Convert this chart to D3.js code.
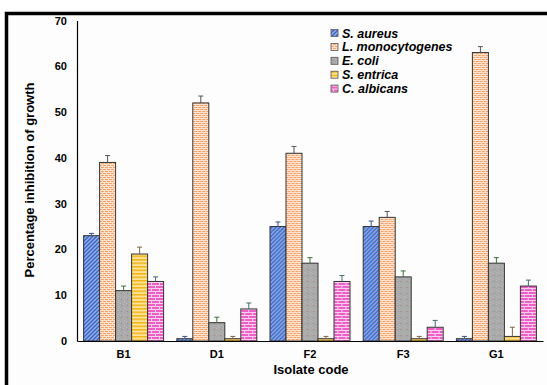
<!DOCTYPE html>
<html>
<head>
<meta charset="utf-8">
<script src="https://cdn.jsdelivr.net/npm/d3@7"></script>
<style>
  body { margin: 0; background: #fff; }
  svg { font-family: Arial, "Liberation Sans", sans-serif; }
</style>
</head>
<body>
<div id="chart"></div>
<script>
// data
var isolates = ["B1", "D1", "F2", "F3", "G1"];
var organisms = ["S. aureus", "L. monocytogenes", "E. coli", "S. entrica", "C. albicans"];
var sAureus = [23, 0.5, 25, 25, 0.5];
var lMono = [39, 52, 41, 27, 63];
var eColi = [11, 4, 17, 14, 17];
var sEntrica = [19, 0.5, 0.5, 0.5, 1];
var cAlbicans = [13, 7, 13, 3, 12];
var sAureusErr = [0.5, 0.5, 1, 1.2, 0.5];
var lMonoErr = [1.5, 1.5, 1.5, 1.3, 1.3];
var eColiErr = [1, 1.2, 1.2, 1.3, 1.2];
var sEntricaErr = [1.5, 0.5, 0.5, 0.5, 2];
var cAlbicansErr = [1, 1.3, 1.3, 1.5, 1.3];
var yTicks = [0, 10, 20, 30, 40, 50, 60, 70];

var series = [sAureus, lMono, eColi, sEntrica, cAlbicans];
var errs = [sAureusErr, lMonoErr, eColiErr, sEntricaErr, cAlbicansErr];

function makeChart(divID) {
    var width = 547, height = 385;
    var svg = d3.select("#" + divID).append("svg")
        .attr("width", width)
        .attr("height", height);

    // frame (left + top border only visible)
    svg.append("rect").attr("x", 6.5).attr("y", 13.5)
        .attr("width", 560).attr("height", 400)
        .attr("fill", "#fdfdfd").attr("stroke", "#000").attr("stroke-width", 3.5);

    var defs = svg.append("defs");

    // S. aureus - blue diagonal weave
    var p0 = defs.append("pattern").attr("id", "pat0").attr("patternUnits", "userSpaceOnUse")
        .attr("width", 4).attr("height", 4);
    p0.append("rect").attr("width", 4).attr("height", 4).attr("fill", "#8fb0ec");
    p0.append("path").attr("d", "M-1,1 L1,-1 M0,4 L4,0 M3,5 L5,3").attr("stroke", "#3c62c0").attr("stroke-width", 1.3);

    // L. monocytogenes - orange small bricks
    var p1 = defs.append("pattern").attr("id", "pat1").attr("patternUnits", "userSpaceOnUse")
        .attr("width", 4).attr("height", 4);
    p1.append("rect").attr("width", 4).attr("height", 4).attr("fill", "#f6a36a");
    p1.append("path").attr("d", "M0,0.5 H4 M0,2.5 H4 M1.5,0 V2 M3.5,2 V4").attr("stroke", "#fde3cf").attr("stroke-width", 1);

    // E. coli - gray confetti
    var p2 = defs.append("pattern").attr("id", "pat2").attr("patternUnits", "userSpaceOnUse")
        .attr("width", 6).attr("height", 6);
    p2.append("rect").attr("width", 6).attr("height", 6).attr("fill", "#a9a9a9");
    var specks = [[0, 0, "#c9a7c4"], [3, 1, "#9bc29b"], [1, 3, "#b8b8d8"], [4, 4, "#d0b8a0"], [2, 5, "#8e8e8e"], [5, 2, "#c4c4c4"]];
    specks.forEach(function (s) {
        p2.append("rect").attr("x", s[0]).attr("y", s[1]).attr("width", 1).attr("height", 1).attr("fill", s[2]);
    });

    // S. entrica - yellow horizontal stripes
    var p3 = defs.append("pattern").attr("id", "pat3").attr("patternUnits", "userSpaceOnUse")
        .attr("width", 4).attr("height", 3.5);
    p3.append("rect").attr("width", 4).attr("height", 3.5).attr("fill", "#fbe39a");
    p3.append("rect").attr("width", 4).attr("height", 1.5).attr("fill", "#f2b418");

    // C. albicans - magenta bricks
    var p4 = defs.append("pattern").attr("id", "pat4").attr("patternUnits", "userSpaceOnUse")
        .attr("width", 8).attr("height", 6);
    p4.append("rect").attr("width", 8).attr("height", 6).attr("fill", "#ef5ec4");
    p4.append("path").attr("d", "M0,0.5 H8 M0,3.5 H8 M2.5,0 V3 M6.5,3 V6").attr("stroke", "#fbd2ee").attr("stroke-width", 1);

    var fills = ["url(#pat0)", "url(#pat1)", "url(#pat2)", "url(#pat3)", "url(#pat4)"];
    var errColors = ["#3a4f8a", "#555", "#3c6e3c", "#7a6a40", "#3c6e6e"];

    var margin = { left: 77, right: 4, top: 20.5, bottom: 44 };
    var x0 = d3.scaleBand().domain(isolates)
        .range([margin.left, width - margin.right]).paddingInner(0).paddingOuter(0);
    var groupW = 80;
    var x1 = d3.scaleBand().domain(d3.range(organisms.length))
        .range([(x0.bandwidth() - groupW) / 2, (x0.bandwidth() + groupW) / 2]);
    var y = d3.scaleLinear().domain([0, 70]).range([height - margin.bottom, margin.top]);

    // y axis
    var yAxis = svg.append("g").attr("transform", "translate(" + margin.left + ",0)")
        .call(d3.axisLeft(y).tickValues(yTicks).tickSize(0).tickPadding(10));
    yAxis.select(".domain").attr("stroke", "#000").attr("stroke-width", 1.2);
    yAxis.selectAll("text").style("font-size", "11px").style("font-weight", "bold").attr("fill", "#000");

    // bars
    var groups = svg.selectAll(".grp").data(isolates).enter().append("g")
        .attr("class", "grp")
        .attr("transform", function (d) { return "translate(" + x0(d) + ",0)"; });

    groups.each(function (iso, gi) {
        var g = d3.select(this);
        var rows = organisms.map(function (o, si) {
            return { s: si, v: series[si][gi], e: errs[si][gi] };
        });
        g.selectAll("rect").data(rows).enter().append("rect")
            .attr("x", function (d) { return x1(d.s); })
            .attr("y", function (d) { return y(d.v); })
            .attr("width", x1.bandwidth())
            .attr("height", function (d) { return y(0) - y(d.v); })
            .attr("fill", function (d) { return fills[d.s]; })
            .attr("stroke", "#333").attr("stroke-width", 1);

        var eb = g.selectAll(".err").data(rows).enter().append("g").attr("class", "err")
            .attr("stroke", function (d) { return errColors[d.s]; }).attr("stroke-width", 1);
        eb.append("line")
            .attr("x1", function (d) { return x1(d.s) + x1.bandwidth() / 2; })
            .attr("x2", function (d) { return x1(d.s) + x1.bandwidth() / 2; })
            .attr("y1", function (d) { return y(d.v); })
            .attr("y2", function (d) { return y(d.v + d.e); });
        eb.append("line")
            .attr("x1", function (d) { return x1(d.s) + x1.bandwidth() / 2 - 2.5; })
            .attr("x2", function (d) { return x1(d.s) + x1.bandwidth() / 2 + 2.5; })
            .attr("y1", function (d) { return y(d.v + d.e); })
            .attr("y2", function (d) { return y(d.v + d.e); });
    });

    // x axis
    var xAxis = svg.append("g").attr("transform", "translate(0," + y(0) + ")")
        .call(d3.axisBottom(x0).tickSize(0).tickPadding(9).tickSizeOuter(0));
    xAxis.select(".domain").attr("stroke", "#000").attr("stroke-width", 1.2);
    xAxis.selectAll("text").style("font-size", "11px").style("font-weight", "bold").attr("fill", "#000");

    // axis titles
    svg.append("text").attr("x", 311).attr("y", 374)
        .attr("text-anchor", "middle").style("font-size", "13px").style("font-weight", "bold")
        .text("Isolate code");
    svg.append("text").attr("transform", "translate(34,180) rotate(-90)")
        .attr("text-anchor", "middle").style("font-size", "13px").style("font-weight", "bold")
        .text("Percentage inhibition of growth");

    // legend
    var legend = svg.append("g").attr("transform", "translate(331,33)");
    var li = legend.selectAll(".li").data(organisms).enter().append("g")
        .attr("transform", function (d, i) { return "translate(0," + i * 13.9 + ")"; });
    li.append("rect").attr("x", 0).attr("y", -3.5).attr("width", 7).attr("height", 7)
        .attr("fill", function (d, i) { return fills[i]; })
        .attr("stroke", "#555").attr("stroke-width", 0.8);
    li.append("text").attr("x", 11).attr("y", 0).attr("dy", "0.36em")
        .style("font-size", "12.5px").style("font-weight", "bold").style("font-style", "italic")
        .text(function (d) { return d; });
}

makeChart("chart");
</script>
</body>
</html>
